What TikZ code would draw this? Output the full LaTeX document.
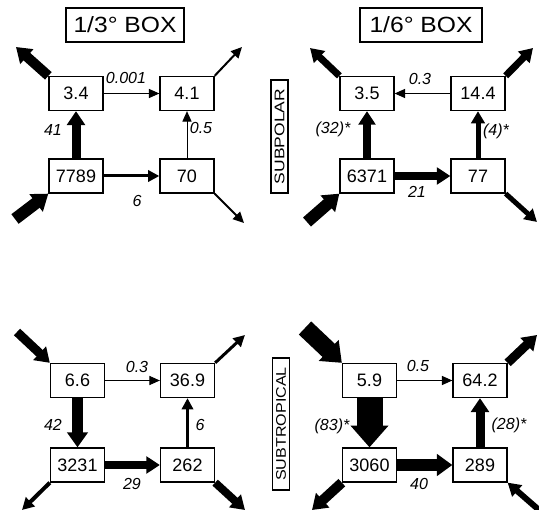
\documentclass[tikz,border=0pt]{standalone}
\usepackage{fontspec}
\setmainfont{Liberation Sans}
\usepackage{graphicx}
\usetikzlibrary{arrows.meta}
\pgfdeclarelayer{bg}
\pgfsetlayers{bg,main}
\begin{document}
\begin{tikzpicture}[x=1pt,y=-1pt,
  numbox/.style={draw, line width=1.3pt, fill=white, minimum width=54pt, minimum height=34pt, inner sep=0pt, font=\fontsize{18}{18}\selectfont},
  titlebox/.style={draw, line width=1.1pt, minimum width=118pt, minimum height=34pt, inner sep=0pt, font=\fontsize{22}{22}\selectfont},
  regbox/.style={draw, line width=1.1pt, rotate=90, minimum height=17pt, inner sep=0pt, font=\fontsize{14}{14}\selectfont},
  lab/.style={font=\fontsize{16}{16}\selectfont\itshape, inner sep=0pt},
  flow/.style={line width=#1, -{Triangle[length=10pt 0.45, width=8pt 1.1]}},
]
\useasboundingbox (0,0) rectangle (539,510);

% titles and region labels
\node[titlebox] (t1) at (125,25) {\scalebox{1.12}[1]{1/3° BOX}};
\node[titlebox, minimum width=122pt] (t2) at (421,25) {\scalebox{1.12}[1]{1/6° BOX}};
\node[regbox, minimum width=113pt] (r1) at (279.5,136.5) {\scalebox{1.25}[1]{SUBPOLAR}};
\node[regbox, minimum width=132pt] (r2) at (281,424) {\scalebox{1.15}[1]{SUBTROPICAL}};

% top-left panel
\node[numbox] (a1) at (76,93.5) {3.4};
\node[numbox] (a2) at (187,93.5) {4.1};
\node[numbox] (a3) at (76,176) {7789};
\node[numbox] (a4) at (187,176) {70};
% top-right panel
\node[numbox] (b1) at (367,93.5) {3.5};
\node[numbox] (b2) at (478,93.5) {14.4};
\node[numbox] (b3) at (367,176) {6371};
\node[numbox] (b4) at (478,176) {77};
% bottom-left panel
\node[numbox] (c1) at (77.5,380.5) {6.6};
\node[numbox] (c2) at (187.5,380.5) {36.9};
\node[numbox] (c3) at (77.5,465) {3231};
\node[numbox] (c4) at (187.5,465) {262};
% bottom-right panel
\node[numbox] (d1) at (369.5,380.5) {5.9};
\node[numbox] (d2) at (480,380.5) {64.2};
\node[numbox] (d3) at (369.5,465) {3060};
\node[numbox] (d4) at (480,465) {289};

% free ends
\coordinate (ea1) at (16,47);
\coordinate (ea2) at (242,47);
\coordinate (ea3) at (15,219);
\coordinate (ea4) at (244,223);
\coordinate (eb1) at (310,48);
\coordinate (eb2) at (533,48);
\coordinate (eb3) at (307,222);
\coordinate (eb4) at (537,222);
\coordinate (ec1) at (17,332);
\coordinate (ec2) at (245,335);
\coordinate (ec3) at (22,510);
\coordinate (ec4) at (245,510);
\coordinate (ed1) at (305,328);
\coordinate (ed2) at (537,335);
\coordinate (ed3) at (312,510);
\coordinate (ed4) at (539,510);

\begin{pgfonlayer}{bg}
% top-left
\draw[flow=1pt] (a1) -- (a2);
\draw[flow=9pt] (a3) -- (a1);
\draw[flow=3pt] (a3) -- (a4);
\draw[flow=1pt] (a4) -- (a2);
\draw[flow=10pt] (a1.north west) -- (ea1);
\draw[flow=2pt] (a2.north east) -- (ea2);
\draw[flow=12pt] (ea3) -- (a3.south west);
\draw[flow=2pt] (a4.south east) -- (ea4);
% top-right
\draw[flow=1pt] (b2) -- (b1);
\draw[flow=8pt] (b3) -- (b1);
\draw[flow=8pt] (b3) -- (b4);
\draw[flow=5pt] (b4) -- (b2);
\draw[flow=7pt] (b1.north west) -- (eb1);
\draw[flow=7pt] (b2.north east) -- (eb2);
\draw[flow=12pt] (eb3) -- (b3.south west);
\draw[flow=5pt] (b4.south east) -- (eb4);
% bottom-left
\draw[flow=1pt] (c1) -- (c2);
\draw[flow=11pt] (c1) -- (c3);
\draw[flow=8pt] (c3) -- (c4);
\draw[flow=3pt] (c4) -- (c2);
\draw[flow=9pt] (ec1) -- (c1.north west);
\draw[flow=3pt] (c2.north east) -- (ec2);
\draw[flow=4pt] (c3.south west) -- (ec3);
\draw[flow=8pt] (c4.south east) -- (ec4);
% bottom-right
\draw[flow=1pt] (d1) -- (d2);
\draw[flow=26pt] (d1) -- (d3);
\draw[flow=12pt] (d3) -- (d4);
\draw[flow=9pt] (d4) -- (d2);
\draw[flow=18pt] (ed1) -- (d1.north west);
\draw[flow=9pt] (d2.north east) -- (ed2);
\draw[flow=10pt] (d3.south west) -- (ed3);
\draw[flow=6pt] (ed4) -- (d4.south east);
\end{pgfonlayer}

% flow labels
\node[lab] (la1) at (126,78) {0.001};
\node[lab] (la2) at (53,130) {41};
\node[lab] (la3) at (137,201) {6};
\node[lab] (la4) at (201,128) {0.5};
\node[lab] (lb1) at (420,79) {0.3};
\node[lab] (lb2) at (333,129) {(32)*};
\node[lab] (lb3) at (417,192) {21};
\node[lab] (lb4) at (496,131) {(4)*};
\node[lab] (lc1) at (137,367) {0.3};
\node[lab] (lc2) at (53,425) {42};
\node[lab] (lc3) at (132,484) {29};
\node[lab] (lc4) at (200,425) {6};
\node[lab] (ld1) at (418,366) {0.5};
\node[lab] (ld2) at (332,426) {(83)*};
\node[lab] (ld3) at (419,484) {40};
\node[lab] (ld4) at (509,425) {(28)*};
\end{tikzpicture}
\end{document}
